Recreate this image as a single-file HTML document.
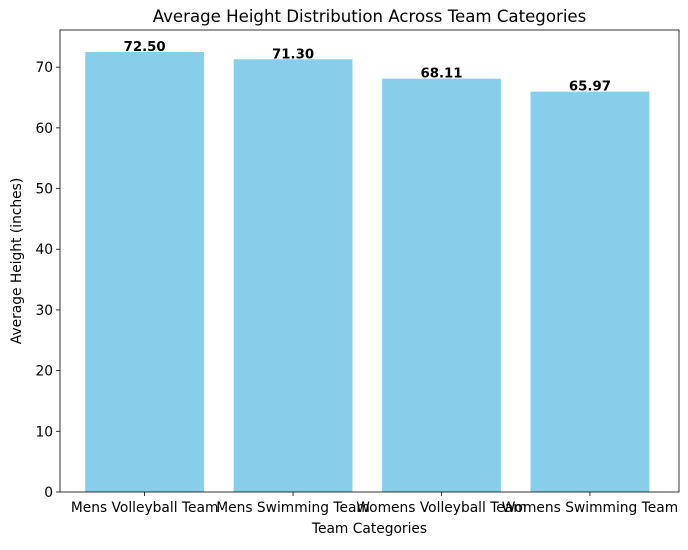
<!DOCTYPE html>
<html><head><meta charset="utf-8"><style>
body{margin:0;background:#fff;}
svg{font-family:"DejaVu Sans","Liberation Sans",sans-serif;}
</style></head><body>
<svg id="chart" width="688" height="545" viewBox="0 0 688 545"></svg>
<script>
const categories = ["Mens Volleyball Team","Mens Swimming Team","Womens Volleyball Team","Womens Swimming Team"];
const values = [72.50, 71.30, 68.11, 65.97];
const valueLabels = ["72.50","71.30","68.11","65.97"];
const yTicks = [0,10,20,30,40,50,60,70];

const svg = document.getElementById('chart');
const NS = 'http://www.w3.org/2000/svg';
const L=60,R=679,T=30,B=492;
const yMax = Math.max(...values)*1.05;
const xMin=-0.57,xMax=3.6;
const xs = v => L + (v - xMin)/(xMax - xMin)*(R-L);
const ys = v => B - v/yMax*(B-T);
function mk(tag, attrs, parent){const e=document.createElementNS(NS,tag);for(const k in attrs)e.setAttribute(k,attrs[k]);(parent||svg).appendChild(e);return e;}

const bars = mk('g',{});


categories.forEach((c,i)=>{
  const x0=xs(i-0.4), x1=xs(i+0.4), y=ys(values[i]);
  const r=mk('rect',{x:x0,y:y,width:x1-x0,height:B-y,fill:'#87ceeb'},bars);
  
  
  const t=mk('text',{x:xs(i),y:y-1,'text-anchor':'middle','font-size':'13.3','font-weight':'bold',fill:'#000'},bars);
  t.textContent=valueLabels[i];
  
  
  mk('line',{x1:xs(i),x2:xs(i),y1:B,y2:B+4,stroke:'#000','stroke-width':0.8});
  const xl=mk('text',{x:xs(i),y:B+20,'text-anchor':'middle','font-size':'13.8',fill:'#000'});
  xl.textContent=c;
  
  
});
yTicks.forEach(v=>{
  const y=ys(v);
  mk('line',{x1:L-4,x2:L,y1:y,y2:y,stroke:'#000','stroke-width':0.8});
  const t=mk('text',{x:L-7,y:y+5,'text-anchor':'end','font-size':'13.8',fill:'#000'});
  t.textContent=v;
  
  
});
const frame=mk('rect',{x:L,y:T,width:R-L,height:B-T,fill:'none',stroke:'#000','stroke-width':0.8});


const title=mk('text',{x:(L+R)/2,y:22,'text-anchor':'middle','font-size':'16.6',fill:'#000'});
title.textContent='Average Height Distribution Across Team Categories';


const xt=mk('text',{x:(L+R)/2,y:533,'text-anchor':'middle','font-size':'13.8',fill:'#000'});
xt.textContent='Team Categories';


const yt=mk('text',{x:21,y:(T+B)/2,'text-anchor':'middle','font-size':'13.8',fill:'#000',transform:'rotate(-90 21 '+((T+B)/2)+')'});
yt.textContent='Average Height (inches)';


</script>
</body></html>
